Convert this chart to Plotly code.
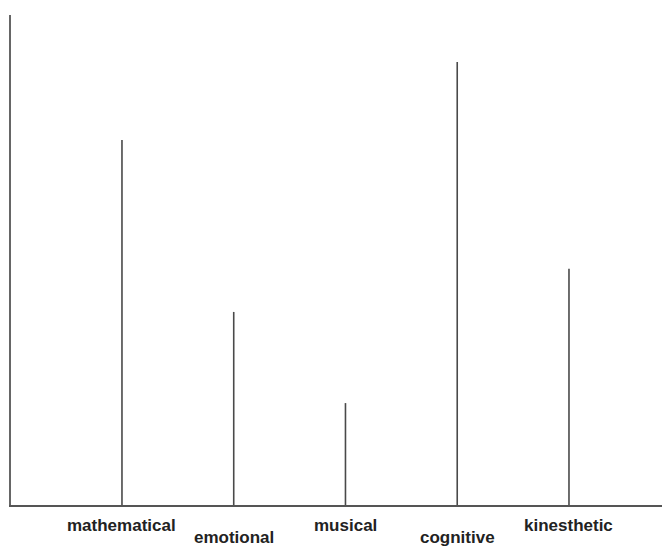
import plotly.graph_objects as go

categories = ["mathematical", "emotional", "musical", "cognitive", "kinesthetic"]
values = [74.5, 39.4, 20.8, 90.4, 48.2]
label_row = [0, 1, 0, 1, 0]  # 0 = upper row, 1 = lower row

xs, ys = [], []
for i, v in enumerate(values):
    xs += [i, i, None]
    ys += [0, v, None]

fig = go.Figure()
fig.add_trace(go.Scatter(x=xs, y=ys, mode="lines",
                         line=dict(color="#4a4a4a", width=1.6),
                         hoverinfo="skip", showlegend=False))

for i, (c, r) in enumerate(zip(categories, label_row)):
    fig.add_annotation(x=i, y=0, xref="x", yref="paper", text="<b>" + c + "</b>",
                       showarrow=False, yanchor="middle", xanchor="center",
                       yshift=-20 if r == 0 else -32,
                       font=dict(family="Liberation Sans, Arial, sans-serif",
                                 size=17, color="#222222"))

# page body adds an 8px offset; margins compensate for it
fig.update_layout(
    width=670, height=548,
    margin=dict(l=3, r=8, t=7, b=51),
    paper_bgcolor="white", plot_bgcolor="white",
    xaxis=dict(range=[-0.993, 4.904], showgrid=False, zeroline=False,
               showticklabels=False, ticks="", showline=True,
               linecolor="#555555", linewidth=1.6),
    yaxis=dict(range=[0, 100], showgrid=False, zeroline=False,
               showticklabels=False, ticks="", showline=True,
               linecolor="#666666", linewidth=1.6),
)

fig.write_html("out.html")
